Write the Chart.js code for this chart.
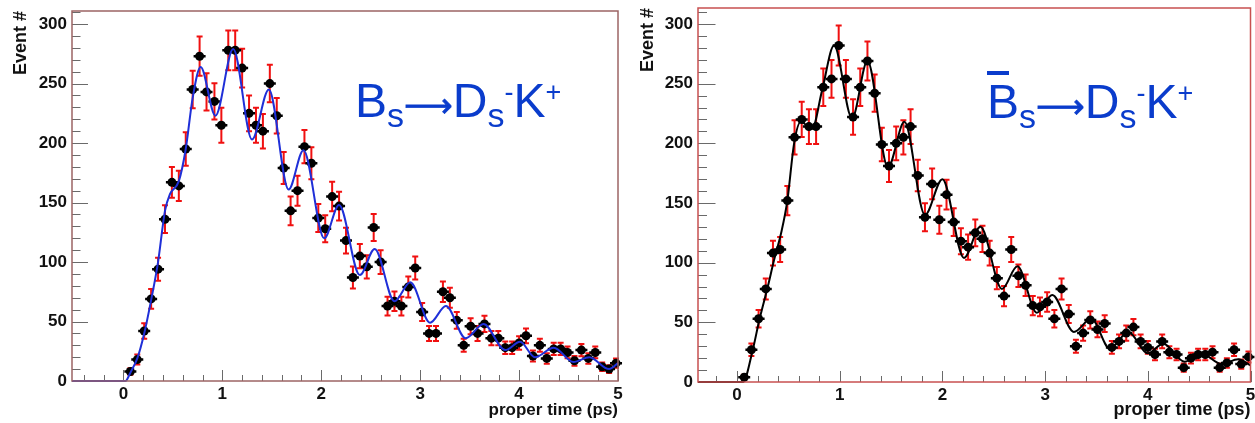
<!DOCTYPE html>
<html><head><meta charset="utf-8">
<script src="https://cdn.jsdelivr.net/npm/chart.js@4.4.1/dist/chart.umd.min.js"></script>
<style>
html,body{margin:0;padding:0;background:#fff;width:1255px;height:423px;overflow:hidden;}
#wrap{position:relative;width:1255px;height:423px;}
canvas{position:absolute;top:0;}
#c1{left:0;} #c2{left:627px;}
.ann{position:absolute;font-family:"Liberation Sans",Arial,sans-serif;font-size:48px;line-height:48px;color:#0a3ccc;white-space:nowrap;}
.ann span{line-height:1;position:relative;}
.ann .sb{font-size:34px;top:10px;}
.ann .sp{font-size:27px;top:-16px;}
.ann .ar{font-family:"DejaVu Sans",sans-serif;font-size:34px;top:0px;-webkit-text-stroke:0.7px #0a3ccc;}
.bar{position:absolute;background:#0a3ccc;height:4px;}
</style></head>
<body><div id="wrap">
<canvas id="c1" width="627" height="423"></canvas>
<canvas id="c2" width="628" height="423"></canvas>
<div class="ann" style="left:355px;top:77px">B<span class="sb">s</span><span class="ar">⟶</span>D<span class="sb">s</span><span class="sp">-</span>K<span class="sp">+</span></div>
<div class="bar" style="left:987px;top:71px;width:22px"></div>
<div class="ann" style="left:987px;top:78px">B<span class="sb">s</span><span class="ar">⟶</span>D<span class="sb">s</span><span class="sp">-</span>K<span class="sp">+</span></div>
</div>
<script>
// ---- data ----
const binCenters = [0.07,0.14,0.21,0.28,0.35,0.42,0.49,0.56,0.63,0.70,0.77,0.84,
  0.92,0.99,1.06,1.13,1.20,1.27,1.34,1.41,1.48,1.55,1.62,1.69,1.76,1.83,1.90,1.97,
  2.04,2.11,2.18,2.25,2.32,2.39,2.46,2.53,2.60,2.67,2.74,2.81,2.88,2.95,3.02,3.09,
  3.16,3.23,3.30,3.37,3.44,3.51,3.58,3.65,3.72,3.79,3.86,3.93,4.00,4.07,4.14,4.21,
  4.28,4.35,4.42,4.49,4.56,4.63,4.70,4.77,4.84,4.91,4.98];

// Bs -> Ds- K+  (left panel)
const bsCounts = [8,18,42,69,94,136,167,164,195,245,273,243,235,215,278,278,263,225,215,210,
  250,223,179,143,160,197,183,137,128,155,147,118,87,105,96,129,100,63,67,63,
  79,95,58,40,40,75,70,51,30,46,40,48,36,36,28,28,32,38,21,30,
  19,27,27,24,17,26,19,24,12,10,15];
const bsErrors = [2.8,4.2,6.5,8.3,9.7,11.7,12.9,12.8,14.0,15.7,16.5,15.6,15.3,14.7,16.7,16.7,16.2,15.0,14.7,14.5,
  15.8,14.9,13.4,12.0,12.6,14.0,13.5,11.7,11.3,12.4,12.1,10.9,9.3,10.2,9.8,11.4,10.0,7.9,8.2,7.9,
  8.9,9.7,7.6,6.3,6.3,8.7,8.4,7.1,5.5,6.8,6.3,6.9,6.0,6.0,5.3,5.3,5.7,6.2,4.6,5.5,
  4.4,5.2,5.2,4.9,4.1,5.1,4.4,4.9,3.5,3.2,3.9];
const bsFitT = [-0.52,0.02,0.07,0.14,0.21,0.28,0.35,0.42,0.47,0.56,0.63,0.70,0.78,0.93,1.11,1.30,1.47,1.67,1.82,2.03,
  2.18,2.39,2.54,2.74,2.90,3.10,3.26,3.46,3.64,3.86,4.01,4.16,4.35,4.55,4.71,4.91,5.00];
const bsFitY = [0,0,7,19,40,68,100,143,157,168,195,238,264,223,279,203,245,161,194,120,
  148,89,111,67,83,49,63,36,48,26,33,20,28,16,20,10,15];

// Bs-bar -> Ds- K+  (right panel)
const bsbarCounts = [4,27,53,78,108,111,152,205,220,214,214,247,254,282,254,222,247,269,242,199,
  181,200,205,214,173,138,166,136,157,134,118,113,125,120,108,87,72,111,89,81,
  64,63,67,53,78,57,30,41,52,44,49,29,34,41,46,34,29,23,34,25,
  23,12,20,23,23,25,12,16,27,15,21];
const bsbarErrors = [2.0,5.2,7.3,8.8,10.4,10.5,12.3,14.3,14.8,14.6,14.6,15.7,15.9,16.8,15.9,14.9,15.7,16.4,15.6,14.1,
  13.5,14.1,14.3,14.6,13.2,11.7,12.9,11.7,12.5,11.6,10.9,10.6,11.2,11.0,10.4,9.3,8.5,10.5,9.4,9.0,
  8.0,7.9,8.2,7.3,8.8,7.5,5.5,6.4,7.2,6.6,7.0,5.4,5.8,6.4,6.8,5.8,5.4,4.8,5.8,5.0,
  4.8,3.5,4.5,4.8,4.8,5.0,3.5,4.0,5.2,3.9,4.6];
const bsbarFitT = [-0.38,0.06,0.14,0.22,0.30,0.36,0.43,0.49,0.556,0.62,0.73,0.83,0.945,1.12,1.27,1.47,1.63,1.83,2.00,2.21,
  2.37,2.58,2.73,2.92,3.07,3.28,3.45,3.63,3.81,4.00,4.15,4.36,4.52,4.72,4.88,5.00];
const bsbarFitY = [0,0,22,53,80,102,125,152,200,218,212,245,282,221,269,180,218,140,170,104,
  130,78,97,58,73,42,53,28,42,24,32,17,24,15,19,14];

const xTickValues = [0,1,2,3,4,5];
const xTickLabels = ['0','1','2','3','4','5'];
const yTickValues = [0,50,100,150,200,250,300];
const yTickLabels = ['0','50','100','150','200','250','300'];
const xAxisTitle = 'proper time (ps)';
const yAxisTitle = 'Event #';

// ---- plugins ----
const errorBars = {
  id:'errorBars',
  beforeDatasetsDraw(chart){
    const {ctx, scales:{x,y}} = chart;
    chart.data.datasets.forEach(ds=>{
      if(!ds.errors) return;
      ctx.save();
      ctx.strokeStyle = '#f01010'; ctx.lineWidth = 2;
      ds.data.forEach((p,i)=>{
        const px = x.getPixelForValue(p.x);
        const y1 = y.getPixelForValue(p.y - ds.errors[i]);
        const y2 = y.getPixelForValue(p.y + ds.errors[i]);
        ctx.beginPath();
        ctx.moveTo(px,y1); ctx.lineTo(px,y2);
        ctx.moveTo(px-3,y1); ctx.lineTo(px+3,y1);
        ctx.moveTo(px-3,y2); ctx.lineTo(px+3,y2);
        ctx.stroke();
      });
      ctx.restore();
    });
  }
};
const markerBars = {
  id:'markerBars',
  afterDatasetDraw(chart, args){
    const ds = chart.data.datasets[args.index];
    if(!ds.errors) return;
    const {ctx, scales:{x,y}} = chart;
    ctx.save(); ctx.strokeStyle='#000'; ctx.lineWidth=2.5;
    ctx.beginPath();
    ds.data.forEach(p=>{
      const px = x.getPixelForValue(p.x), py = y.getPixelForValue(p.y);
      ctx.moveTo(px-6,py); ctx.lineTo(px+6,py);
    });
    ctx.stroke(); ctx.restore();
  }
};
const rootAxes = {
  id:'rootAxes',
  beforeDatasetsDraw(chart, args, opts){
    const {ctx, chartArea:a, scales:{x,y}} = chart;
    ctx.save();
    ctx.strokeStyle = '#6a6a6a'; ctx.lineWidth = 1;
    ctx.beginPath();
    for(let v=0; v<=y.max; v+=10){
      const py = Math.round(y.getPixelForValue(v))+0.5;
      const L = (v%50===0) ? opts.yMajor : opts.yMinor;
      ctx.moveTo(a.left,py); ctx.lineTo(a.left+L,py);
    }
    for(let k=Math.ceil(x.min*5); k<=Math.floor(x.max*5); k++){
      const px = Math.round(x.getPixelForValue(k/5))+0.5;
      const L = (k%5===0) ? opts.xMajor : opts.xMinor;
      ctx.moveTo(px,a.bottom); ctx.lineTo(px,a.bottom-L);
    }
    ctx.stroke();
    ctx.restore();
  },
  afterDraw(chart, args, opts){
    const {ctx, chartArea:a} = chart;
    ctx.save();
    ctx.strokeStyle = opts.frame; ctx.lineWidth = 1.5;
    ctx.strokeRect(a.left, a.top, a.right-a.left, a.bottom-a.top);
    ctx.restore();
  }
};

function makeChart(id, c){
  const font = {family:'"Liberation Sans", Arial, sans-serif', weight:'bold'};
  return new Chart(document.getElementById(id), {
    type:'scatter',
    data:{datasets:[
      {type:'line', data:c.fitT.map((t,i)=>({x:t,y:c.fitY[i]})), borderColor:c.fitColor, borderWidth:2,
        pointRadius:0, cubicInterpolationMode:'monotone', fill:false, order:0, clip:false},
      {type:'scatter', data:binCenters.map((t,i)=>({x:t,y:c.counts[i]})), errors:c.errors,
        backgroundColor:'#000', borderColor:'#000', pointRadius:4.5, borderWidth:0, order:1, clip:false}
    ]},
    options:{
      responsive:false, animation:false, devicePixelRatio:1, events:[],
      layout:{padding:{left:0, right:c.padRight, top:c.padTop, bottom:0}},
      plugins:{legend:{display:false}, tooltip:{enabled:false},
        rootAxes:{frame:c.frame, yMajor:c.yMajor, yMinor:c.yMinor, xMajor:11, xMinor:6}},
      scales:{
        x:{type:'linear', min:c.xMin, max:5,
          afterFit(s){ s.height = c.xH; s.paddingLeft=0; s.paddingRight=0; },
          afterBuildTicks(s){ s.ticks = xTickValues.map(v=>({value:v})); },
          grid:{display:false, drawTicks:false}, border:{display:false},
          ticks:{font:{...font, size:17}, color:'#111', padding:3, maxRotation:0, autoSkip:false,
            callback:(v,i)=>xTickLabels[i]},
          title:{display:true, text:xAxisTitle, align:'end', color:'#111',
            font:{...font, size:c.xTitleSize}, padding:{top:0,bottom:2}}
        },
        y:{type:'linear', min:0, max:c.yMax,
          afterFit(s){ s.width = c.yW; s.paddingTop=0; s.paddingBottom=0; },
          afterBuildTicks(s){ s.ticks = yTickValues.map(v=>({value:v})); },
          grid:{display:false, drawTicks:false}, border:{display:false},
          ticks:{font:{...font, size:17}, color:'#111', padding:5, autoSkip:false,
            callback:(v,i)=>yTickLabels[i]},
          title:{display:true, text:yAxisTitle, align:'end', color:'#111',
            font:{...font, size:18}, padding:{top:10,bottom:0}}
        }
      }
    },
    plugins:[rootAxes, errorBars, markerBars]
  });
}

makeChart('c1', {counts:bsCounts, errors:bsErrors, fitT:bsFitT, fitY:bsFitY, fitColor:'#1f2fd8',
  xMin:-0.52, yMax:311, padRight:9, padTop:11, xH:42, yW:72, frame:'#9c6464', yMajor:16, yMinor:8.5, xTitleSize:17});
makeChart('c2', {counts:bsbarCounts, errors:bsbarErrors, fitT:bsbarFitT, fitY:bsbarFitY, fitColor:'#000',
  xMin:-0.38, yMax:313.4, padRight:2, padTop:8, xH:41, yW:71, frame:'#c85050', yMajor:17.5, yMinor:9, xTitleSize:18});
</script>
</body></html>
